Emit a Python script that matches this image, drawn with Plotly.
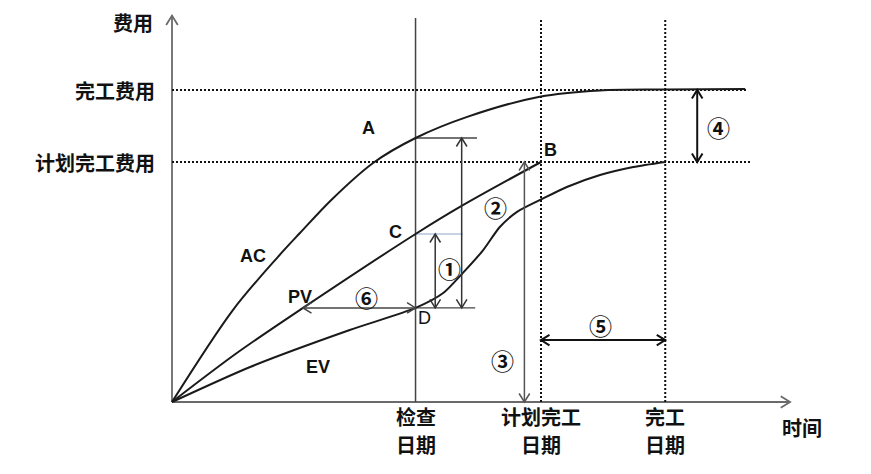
import math
import plotly.graph_objects as go

# ---------------- data ----------------
# time axis units, cost axis units
ac_t = [0, 0.99, 1.72, 2.08, 2.59, 3.27, 3.96, 4.80, 5.98, 6.96, 8.0, 9.32]
ac_c = [0, 3.83, 6.04, 7.04, 8.42, 9.96, 11.0, 11.88, 12.72, 12.98, 13.02, 13.04]

pv_t = [0, 1.06, 2.13, 3.96, 4.73, 6.0]
pv_c = [0, 2.05, 3.92, 7.0, 8.2, 10.0]

ev_t = [0, 1.27, 2.89, 3.96, 4.41, 4.73, 5.06, 5.33, 5.61, 6.02, 6.42, 6.96, 7.50, 8.02]
ev_c = [0, 1.46, 3.0, 3.92, 4.54, 5.38, 6.33, 7.29, 7.92, 8.46, 8.96, 9.46, 9.79, 10.0]

date_labels = [("检查", "日期"), ("计划完工", "日期"), ("完工", "日期")]
date_values = [3.96, 6.0, 8.02]          # check date, planned finish, actual finish
cost_labels = ["完工费用", "计划完工费用"]
cost_values = [13.0, 10.0]               # actual cost at completion, planned cost
axis_titles = ["费用", "时间"]

CHECK, PLAN_END, REAL_END = date_values
EAC, BAC = cost_values
AC_CHECK, PV_CHECK, EV_CHECK = 11.0, 7.0, 3.92   # A, C, D values at check date
PV_TIME_OF_EV = 2.13                              # time where PV equals EV at check

# ---------------- scales (pixel geometry) ----------------
W, H = 871, 474
X0, Y0 = 172, 402          # origin pixel
SX, SY = 61.5, 24.0        # px per unit
XR = [-X0 / SX, (W - X0) / SX]
YR = [(Y0 - H) / SY, Y0 / SY]

fig = go.Figure()

def line(xs, ys, color="#222", width=1.6, dash=None, shape="linear", smoothing=None):
    ld = dict(color=color, width=width, dash=dash, shape=shape)
    if smoothing is not None:
        ld["smoothing"] = smoothing
    fig.add_trace(go.Scatter(x=xs, y=ys, mode="lines", hoverinfo="skip", line=ld))

def chevron(tip, frm, L=10, ang=32):
    tx, ty = tip[0] * SX, tip[1] * SY
    fx, fy = frm[0] * SX, frm[1] * SY
    dx, dy = tx - fx, ty - fy
    n = math.hypot(dx, dy)
    dx, dy = dx / n, dy / n
    xs, ys = [], []
    for s in (1, -1):
        a = math.radians(ang) * s
        rx = dx * math.cos(a) - dy * math.sin(a)
        ry = dx * math.sin(a) + dy * math.cos(a)
        xs.append((tx - L * rx) / SX)
        ys.append((ty - L * ry) / SY)
    return [xs[0], tip[0], xs[1]], [ys[0], tip[1], ys[1]]

def arrow(p, q, double=True, color="#444", width=1.5, L=10):
    xs, ys = [p[0], q[0], None], [p[1], q[1], None]
    cx, cy = chevron(q, p, L)
    xs += cx + [None]; ys += cy + [None]
    if double:
        cx, cy = chevron(p, q, L)
        xs += cx + [None]; ys += cy + [None]
    line(xs, ys, color=color, width=width)

TOP = 16.0
# axes
arrow((0, 0), (0, 16.1), double=False, color="#6a6a6a", width=1.8, L=11)
arrow((0, 0), (10.05, 0), double=False, color="#6a6a6a", width=1.8, L=11)

# reference lines
line([CHECK, CHECK], [0, TOP], color="#444", width=1.5)
for d in (PLAN_END, REAL_END):
    line([d, d], [0, TOP], color="#111", width=2, dash="2px,2px")
line([0, 9.35], [EAC, EAC], color="#111", width=2, dash="2px,2px")
line([0, 9.40], [BAC, BAC], color="#111", width=2, dash="2px,2px")

# short horizontal guides at the check date
line([CHECK, 4.96], [AC_CHECK, AC_CHECK], color="#444", width=1.3)
line([CHECK, 4.73], [PV_CHECK, PV_CHECK], color="#8fa8c8", width=1.2)
line([CHECK, 4.93], [EV_CHECK, EV_CHECK], color="#444", width=1.3)

# curves
line(ac_t, ac_c, color="#1a1a1a", width=2, shape="spline", smoothing=0.9)
line(pv_t, pv_c, color="#1a1a1a", width=2, shape="spline", smoothing=0.9)
line(ev_t, ev_c, color="#1a1a1a", width=2, shape="spline", smoothing=0.7)

# dimension arrows
arrow((4.28, EV_CHECK), (4.28, PV_CHECK), color="#333")            # ①
arrow((4.71, EV_CHECK), (4.71, AC_CHECK), color="#333")            # AC-EV
arrow((5.73, 0), (5.73, BAC), color="#555")                          # ③
arrow((8.54, BAC), (8.54, EAC), color="#111", width=2)              # ④
arrow((PLAN_END, 2.58), (REAL_END, 2.58), color="#111", width=2)    # ⑤
arrow((PV_TIME_OF_EV, EV_CHECK), (CHECK, EV_CHECK), color="#444")   # ⑥

# ---------------- text ----------------
CJK = "Noto Sans CJK SC"
LAT = "Liberation Sans"
ann = []

def txt(x, y, s, size=17, family=LAT, bold=True, xa="center", ya="middle"):
    ann.append(dict(x=x, y=y, text=(f"<b>{s}</b>" if bold else s), showarrow=False,
                    xanchor=xa, yanchor=ya,
                    font=dict(family=family, size=size, color="#111")))

txt(-0.27, 15.83, axis_titles[0], size=20, family=CJK, xa="right")
for lab, v in zip(cost_labels, cost_values):
    txt(-0.25, v, lab, size=20, family=CJK, xa="right")
for (l1, l2), v in zip(date_labels, date_values):
    txt(v, -0.62, l1, size=20, family=CJK)
    txt(v, -1.75, l2, size=20, family=CJK)
txt(10.24, -1.05, axis_titles[1], size=20, family=CJK)

txt(3.20, 11.42, "A", size=18)
txt(6.16, 10.5, "B", size=18)
txt(3.63, 7.08, "C", size=18)
txt(4.11, 3.5, "D", size=18, bold=False)
txt(1.32, 6.08, "AC", size=18)
txt(2.08, 4.38, "PV", size=18)
txt(2.37, 1.46, "EV", size=18)

circ = ["①", "②", "③", "④", "⑤", "⑥"]
circ_pos = [(4.52, 5.58), (5.26, 8.13), (5.38, 1.75), (8.88, 11.46), (6.96, 3.21), (3.17, 4.38)]
for s, (x, y) in zip(circ, circ_pos):
    txt(x, y, s, size=23, family=CJK, bold=True)

fig.update_layout(
    width=W, height=H, margin=dict(l=0, r=0, t=0, b=0),
    paper_bgcolor="white", plot_bgcolor="white", showlegend=False,
    xaxis=dict(range=XR, visible=False, fixedrange=True),
    yaxis=dict(range=YR, visible=False, fixedrange=True),
    annotations=ann,
)
fig.write_html("out.html")
